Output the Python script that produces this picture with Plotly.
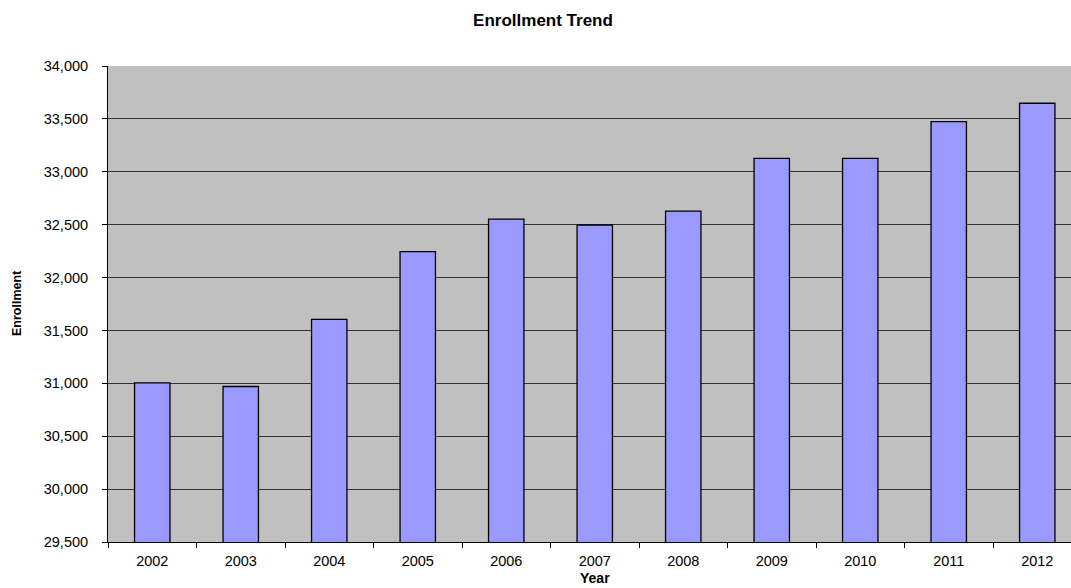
import plotly.graph_objects as go

years = ["2002", "2003", "2004", "2005", "2006", "2007", "2008", "2009", "2010", "2011", "2012"]
enrollment = [31005, 30970, 31605, 32245, 32553, 32497, 32628, 33127, 33127, 33475, 33648]
y_ticks = [29500, 30000, 30500, 31000, 31500, 32000, 32500, 33000, 33500, 34000]

W, H = 1071, 588
L, T, B = 108, 66, 46
plot_w = W - L
plot_h = H - T - B

fig = go.Figure()
fig.add_trace(go.Bar(
    x=years, y=enrollment,
    marker=dict(color="#9999FF", line=dict(color="#000000", width=1.3)),
    width=0.4,
    hoverinfo="x+y",
))

cat_w = 88.5
x_end = -0.5 + plot_w / cat_w

fig.update_layout(
    width=W, height=H,
    margin=dict(l=L, r=0, t=T, b=B, pad=0),
    paper_bgcolor="#FFFFFF",
    plot_bgcolor="#C0C0C0",
    font=dict(family="Liberation Sans, Arial, sans-serif", color="#000000", size=14),
    showlegend=False,
    title=dict(
        text="<b>Enrollment Trend</b>",
        xref="container", yref="container",
        x=543 / W, y=1 - 20 / H,
        xanchor="center", yanchor="middle",
        font=dict(size=17, color="#000000"),
    ),
    xaxis=dict(
        type="category",
        range=[-0.5, x_end],
        showgrid=False,
        showline=True, linecolor="#000000", linewidth=1,
        ticks="outside", tickson="boundaries", ticklen=5, tickcolor="#000000",
        tickfont=dict(size=14.5),
        ticklabelstandoff=6,
        zeroline=False,
    ),
    yaxis=dict(
        range=[29500, 34000],
        tickvals=y_ticks,
        tickformat=",d",
        showgrid=True, gridcolor="#333333", gridwidth=1,
        showline=True, linecolor="#000000", linewidth=1,
        ticks="outside", ticklen=5, tickcolor="#000000",
        tickfont=dict(size=14.5),
        ticklabelstandoff=11,
        zeroline=False,
    ),
    annotations=[
        dict(text="<b>Year</b>", xref="paper", yref="paper", x=(595 - L) / plot_w,
             y=-(578 - (H - B)) / plot_h,
             xanchor="center", yanchor="middle", showarrow=False, font=dict(size=14)),
        dict(text="<b>Enrollment</b>", xref="paper", yref="paper", x=(17 - L) / plot_w,
             y=((H - B) - 303) / plot_h, textangle=-90,
             xanchor="center", yanchor="middle", showarrow=False, font=dict(size=12.5)),
    ],
)

fig.write_html("out.html")
